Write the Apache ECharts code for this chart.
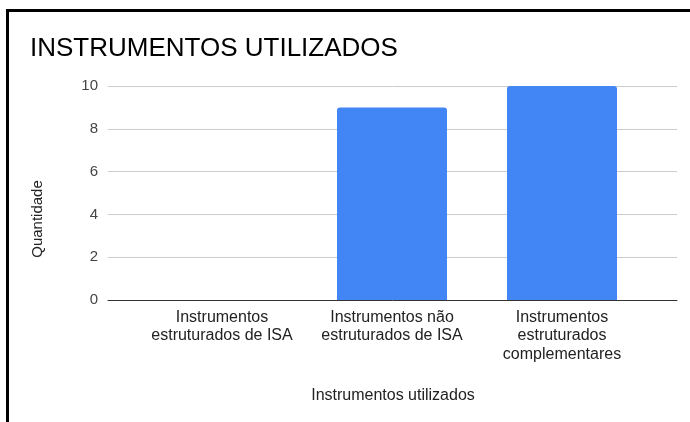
<!DOCTYPE html>
<html>
<head>
<meta charset="utf-8">
<script src="https://cdn.jsdelivr.net/npm/echarts@6/dist/echarts.min.js"></script>
<style>
html,body{margin:0;padding:0;background:#fff;}
#frame{position:absolute;left:6px;top:9px;width:690px;height:420px;border-left:3px solid #000;border-top:3px solid #000;}
#chart{position:absolute;left:0;top:0;width:690px;height:422px;}
</style>
</head>
<body>
<div id="frame"></div>
<div id="chart"></div>
<script>
const titleText = 'INSTRUMENTOS UTILIZADOS';
const categories = ['Instrumentos\nestruturados de ISA', 'Instrumentos não\nestruturados de ISA', 'Instrumentos\nestruturados\ncomplementares'];
const values = [0, 9, 10];
const yMin = 0, yMax = 10, yInterval = 2;
const xAxisTitle = 'Instrumentos utilizados';
const yAxisTitle = 'Quantidade';

const font = 'Arial, "Liberation Sans", sans-serif';
const chart = echarts.init(document.getElementById('chart'), null, {renderer: 'canvas'});
chart.setOption({
  animation: false,
  title: {text: titleText, left: 25, top: 31, textStyle: {fontFamily: font, fontSize: 26, fontWeight: 'normal', color: '#000'}},
  grid: [
    {left: 108, right: 13, top: 86, bottom: 122},
    {left: 137, right: 43, top: 86, bottom: 122}
  ],
  xAxis: [
    {gridIndex: 0, type: 'category', data: categories, axisLine: {show: true, lineStyle: {color: '#333', width: 1}}, axisTick: {show: false}, axisLabel: {show: false}},
    {gridIndex: 1, type: 'category', data: categories, axisLine: {show: false}, axisTick: {show: false},
     axisLabel: {fontFamily: font, fontSize: 16, color: '#222', lineHeight: 18.5, margin: 8, interval: 0}}
  ],
  yAxis: [
    {gridIndex: 0, type: 'value', min: yMin, max: yMax, interval: yInterval,
     axisLine: {show: false}, axisTick: {show: false},
     axisLabel: {fontFamily: font, fontSize: 15, color: '#444', margin: 10},
     splitLine: {lineStyle: {color: '#cccccc', width: 1}}},
    {gridIndex: 1, type: 'value', min: yMin, max: yMax, interval: yInterval, show: false, splitLine: {show: false}}
  ],
  graphic: [
    {type: 'text', x: 393, y: 396, style: {text: xAxisTitle, font: '16px ' + font, fill: '#222', align: 'center', verticalAlign: 'middle'}},
    {type: 'text', x: 38, y: 219, rotation: Math.PI / 2, style: {text: yAxisTitle, font: '15px ' + font, fill: '#222', align: 'center', verticalAlign: 'middle'}}
  ],
  series: [{
    type: 'bar', xAxisIndex: 1, yAxisIndex: 1, data: values, barWidth: 110,
    itemStyle: {color: '#4285f4', borderRadius: [3, 3, 0, 0]}
  }]
});
</script>
</body>
</html>
